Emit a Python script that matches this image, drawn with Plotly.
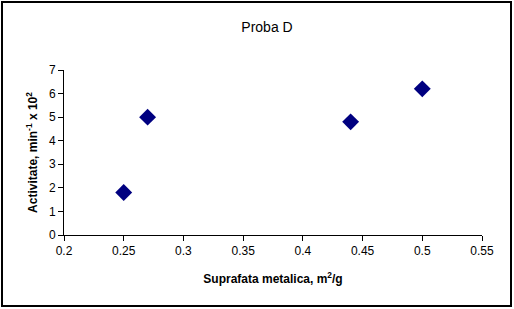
import plotly.graph_objects as go

surface = [0.25, 0.27, 0.44, 0.5]
activity = [1.8, 5.0, 4.8, 6.2]
x_ticks = [0.2, 0.25, 0.3, 0.35, 0.4, 0.45, 0.5, 0.55]
y_ticks = [0, 1, 2, 3, 4, 5, 6, 7]

W, H = 514, 309
L, R, T, B = 64, 32, 70, 74
pw, ph = W - L - R, H - T - B

fig = go.Figure(go.Scatter(
    x=surface, y=activity, mode="markers",
    marker=dict(symbol="diamond", size=13, color="#000080",
                line=dict(width=0)),
))

font = "Liberation Sans, Arial, sans-serif"
fig.update_layout(
    width=W, height=H,
    margin=dict(l=L, r=R, t=T, b=B),
    paper_bgcolor="white", plot_bgcolor="white",
    showlegend=False,
    font=dict(family=font, color="black", size=12),
    title=dict(text="Proba D", x=(267) / W, xanchor="center",
               y=1 - 27 / H, yanchor="middle",
               font=dict(size=14, family=font, color="black")),
    xaxis=dict(range=[0.2, 0.55], tickvals=x_ticks,
               ticktext=[str(v) for v in x_ticks],
               showgrid=False, zeroline=False, showline=True,
               linecolor="black", linewidth=1,
               ticks="outside", ticklen=5, tickcolor="black",
               tickfont=dict(size=12),
               title=dict(text="<b>Suprafata metalica, m<sup>2</sup>/g</b>",
                          font=dict(size=12), standoff=17)),
    yaxis=dict(range=[0, 7], tickvals=y_ticks,
               showgrid=False, zeroline=False, showline=True,
               linecolor="black", linewidth=1,
               ticks="outside", ticklen=5, tickcolor="black",
               tickfont=dict(size=12),
               title=dict(text="<b>Activitate, min<sup>-1</sup> x 10<sup>2</sup></b>",
                          font=dict(size=12), standoff=8)),
    shapes=[dict(type="rect", xref="paper", yref="paper",
                 x0=(2 - L) / pw, x1=(W - 3 - L) / pw,
                 y0=(H - T - B - (H - 3 - T)) / ph, y1=(H - B - 2) / ph,
                 line=dict(color="black", width=2), layer="above")],
)

fig.write_html("out.html")
